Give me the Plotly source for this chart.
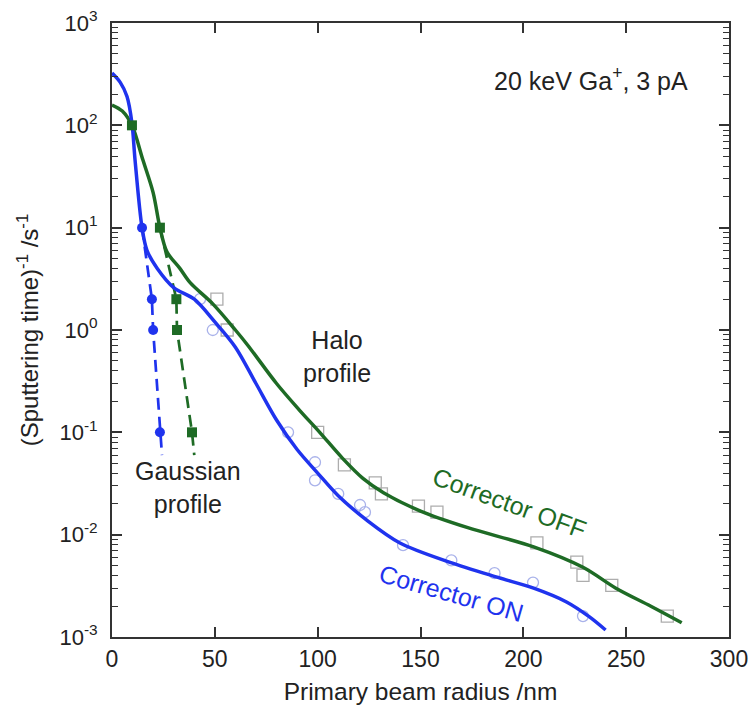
import plotly.graph_objects as go

# ---- data ----
on_curve_x = [0, 4, 7.3, 9.7, 11.2, 14.6, 17, 22, 30, 40, 50, 60, 70, 80, 90, 100, 110, 124, 140, 164, 188, 205, 221, 232, 240]
on_curve_y = [324, 263, 191, 105, 46, 10, 6.0, 4.0, 2.6, 2.0, 1.2, 0.68, 0.30, 0.132, 0.068, 0.040, 0.024, 0.0138, 0.0083, 0.0054, 0.0038, 0.0030, 0.0022, 0.00158, 0.00117]

off_curve_x = [0, 5, 9.7, 15, 20, 23.3, 26.7, 33, 38, 49, 60, 66, 80, 91, 101, 112, 122, 132, 150, 173, 205, 229, 245, 262, 277]
off_curve_y = [158, 138, 100, 46, 22, 10, 5.8, 4.0, 2.9, 1.8, 1.0, 0.71, 0.30, 0.166, 0.1, 0.056, 0.0355, 0.0257, 0.017, 0.0117, 0.0076, 0.0048, 0.0030, 0.0020, 0.00138]

on_data_x = [42.8, 49, 85.6, 98.7, 98.7, 110, 120.6, 123, 141.5, 165, 186, 204.7, 229]
on_data_y = [2.0, 1.0, 0.1, 0.051, 0.034, 0.025, 0.0195, 0.0166, 0.0079, 0.0056, 0.0042, 0.0034, 0.0016]

off_data_x = [51, 56, 100, 113, 128, 131, 149, 158, 206.6, 226, 229, 243, 270]
off_data_y = [2.0, 1.0, 0.1, 0.048, 0.032, 0.025, 0.019, 0.0166, 0.0083, 0.0054, 0.004, 0.0032, 0.0016]

gauss_on_x = [14.6, 19.4, 20.0, 23.3, 24.3]
gauss_on_y = [10, 2, 1, 0.1, 0.06]
gauss_on_mark_x = [14.6, 19.4, 20.0, 23.3]
gauss_on_mark_y = [10, 2, 1, 0.1]

gauss_off_x = [23.3, 31.3, 31.6, 38.9, 40.0]
gauss_off_y = [10, 2, 1, 0.1, 0.06]
gauss_off_mark_x = [9.7, 23.3, 31.3, 31.6, 38.9]
gauss_off_mark_y = [100, 10, 2, 1, 0.1]

x_ticks = [0, 50, 100, 150, 200, 250, 300]
y_ticks = [1e-3, 1e-2, 1e-1, 1e0, 1e1, 1e2, 1e3]
y_ticktext = ["10<sup>-3</sup>", "10<sup>-2</sup>", "10<sup>-1</sup>", "10<sup>0</sup>",
              "10<sup>1</sup>", "10<sup>2</sup>", "10<sup>3</sup>"]
y_minor = [m * 10.0 ** e for e in range(-3, 3) for m in range(2, 10)]

BLUE = "#1f33ee"
GREEN = "#1e6b25"
TXT = "#222222"
FONT = "Liberation Sans, Arial, sans-serif"

fig = go.Figure()

# open data markers
fig.add_trace(go.Scatter(x=off_data_x, y=off_data_y, mode="markers",
                         marker=dict(symbol="square-open", size=12, color="#adadad", line=dict(width=1.3))))
fig.add_trace(go.Scatter(x=on_data_x, y=on_data_y, mode="markers",
                         marker=dict(symbol="circle-open", size=11, color="#a9b2ea", line=dict(width=1.3))))

# gaussian dashed lines
fig.add_trace(go.Scatter(x=gauss_on_x, y=gauss_on_y, mode="lines",
                         line=dict(color=BLUE, width=2.7, dash="12px,7px")))
fig.add_trace(go.Scatter(x=gauss_off_x, y=gauss_off_y, mode="lines",
                         line=dict(color=GREEN, width=2.7, dash="12px,7px")))

# halo solid curves
fig.add_trace(go.Scatter(x=off_curve_x, y=off_curve_y, mode="lines",
                         line=dict(color=GREEN, width=3.5, shape="spline", smoothing=0.9)))
fig.add_trace(go.Scatter(x=on_curve_x, y=on_curve_y, mode="lines",
                         line=dict(color=BLUE, width=3.5, shape="spline", smoothing=0.9)))

# gaussian markers
fig.add_trace(go.Scatter(x=gauss_on_mark_x, y=gauss_on_mark_y, mode="markers",
                         marker=dict(symbol="circle", size=10, color=BLUE)))
fig.add_trace(go.Scatter(x=gauss_off_mark_x, y=gauss_off_mark_y, mode="markers",
                         marker=dict(symbol="square", size=10, color=GREEN)))

fig.update_layout(
    width=750, height=716,
    margin=dict(l=112, r=21, t=23, b=79),
    paper_bgcolor="white", plot_bgcolor="white",
    showlegend=False,
    font=dict(family=FONT, size=22, color=TXT),
    xaxis=dict(range=[0, 300], tickvals=x_ticks, ticks="inside", ticklen=10, tickwidth=1.5,
               tickcolor="#333333", showline=True, linecolor="#333333", linewidth=2,
               mirror="ticks", showgrid=False, zeroline=False, automargin=False,
               tickfont=dict(size=23, color=TXT),
               title=dict(text="Primary beam radius /nm", font=dict(size=24.5, color=TXT), standoff=12)),
    yaxis=dict(type="log", range=[-3, 3], tickvals=y_ticks, ticktext=y_ticktext,
               ticks="inside", ticklen=10, tickwidth=1.5, tickcolor="#333333",
               showline=True, linecolor="#333333", linewidth=2, mirror="ticks",
               showgrid=False, zeroline=False, automargin=False, tickfont=dict(size=22, color=TXT),
               ticklabelstandoff=8,
               minor=dict(tickmode="array", tickvals=y_minor, ticks="inside", ticklen=6,
                          tickwidth=1.2, tickcolor="#333333", showgrid=False),
               title=dict(text="(Sputtering time)<sup>-1</sup> /s<sup>-1</sup>",
                          font=dict(size=24, color=TXT), standoff=14)),
)

ann = [
    dict(x=233, y=2.45, text="20 keV Ga<sup>+</sup>, 3 pA", font=dict(size=25, color=TXT)),
    dict(x=109.4, y=-0.26, text="Halo<br>profile", font=dict(size=25, color=TXT)),
    dict(x=37, y=-1.54, text="Gaussian<br>profile", font=dict(size=25, color=TXT)),
    dict(x=193.5, y=-1.69, text="Corrector OFF", textangle=20, font=dict(size=25, color=GREEN)),
    dict(x=165, y=-2.57, text="Corrector ON", textangle=16, font=dict(size=25, color=BLUE)),
]
for a in ann:
    fig.add_annotation(xref="x", yref="y", showarrow=False, **a)

fig.write_html("out.html")
